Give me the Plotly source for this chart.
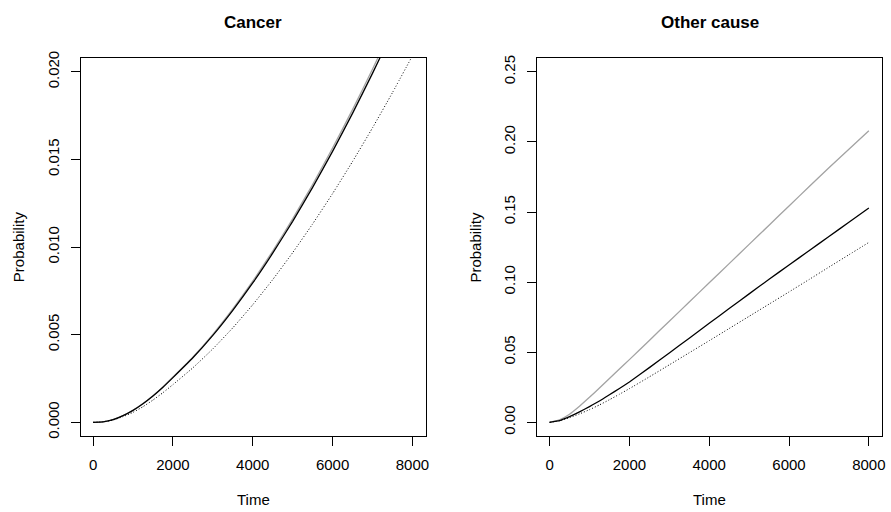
import plotly.graph_objects as go

# ---- data ----
time = [0, 250, 500, 750, 1000, 1250, 1500, 1750, 2000, 2500, 3000, 3500, 4000,
        4500, 5000, 5500, 6000, 6500, 7000, 7500, 8000]

cancer_gray = [0, 0.00003, 0.00015, 0.00038, 0.00069, 0.00107, 0.00152, 0.00202, 0.00258,
               0.00372, 0.00502, 0.00647, 0.00805, 0.00977, 0.01161, 0.01357, 0.01565,
               0.01784, 0.02015, 0.02256, 0.02508]
cancer_black = [0, 0.00003, 0.00015, 0.00038, 0.00068, 0.00106, 0.00150, 0.00200, 0.00255,
                0.00368, 0.00496, 0.00639, 0.00795, 0.00965, 0.01147, 0.01341, 0.01546,
                0.01763, 0.01991, 0.02229, 0.02478]
cancer_dotted = [0, 0.00003, 0.00013, 0.00032, 0.00057, 0.00089, 0.00127, 0.00169, 0.00215,
                 0.00311, 0.00419, 0.00539, 0.00671, 0.00814, 0.00968, 0.01132, 0.01305,
                 0.01488, 0.01680, 0.01881, 0.02091]

other_gray = [0, 0.0018, 0.0058, 0.0115, 0.0178, 0.0245, 0.0312, 0.0380, 0.0447,
              0.0584, 0.0721, 0.0858, 0.0995, 0.1132, 0.1269, 0.1406, 0.1543,
              0.1680, 0.1815, 0.1948, 0.2079]
other_black = [0, 0.0012, 0.0040, 0.0074, 0.0112, 0.0152, 0.0196, 0.0241, 0.0288,
               0.0390, 0.0495, 0.0600, 0.0706, 0.0811, 0.0916, 0.1020, 0.1122,
               0.1224, 0.1325, 0.1427, 0.1529]
other_dotted = [0, 0.0010, 0.0033, 0.0060, 0.0090, 0.0124, 0.0161, 0.0200, 0.0240,
                0.0324, 0.0410, 0.0496, 0.0582, 0.0669, 0.0756, 0.0843, 0.0930,
                0.1018, 0.1107, 0.1195, 0.1283]

x_ticks = [0, 2000, 4000, 6000, 8000]
cancer_yticks = [0.000, 0.005, 0.010, 0.015, 0.020]
cancer_ylabels = ["0.000", "0.005", "0.010", "0.015", "0.020"]
other_yticks = [0.00, 0.05, 0.10, 0.15, 0.20, 0.25]
other_ylabels = ["0.00", "0.05", "0.10", "0.15", "0.20", "0.25"]

titles = ["Cancer", "Other cause"]
x_title = "Time"
y_title = "Probability"

# ---- figure ----
W, H = 891, 512
FONT = "Liberation Sans, Arial, sans-serif"
GRAY = "#a3a3a3"

fig = go.Figure()

def add_panel(xa, ya, g, b, d):
    fig.add_trace(go.Scatter(x=time, y=g, mode="lines", xaxis=xa, yaxis=ya,
                             line=dict(color=GRAY, width=1.3, shape="spline", smoothing=0.4)))
    fig.add_trace(go.Scatter(x=time, y=b, mode="lines", xaxis=xa, yaxis=ya,
                             line=dict(color="black", width=1.3, shape="spline", smoothing=0.4)))
    fig.add_trace(go.Scatter(x=time, y=d, mode="lines", xaxis=xa, yaxis=ya,
                             line=dict(color="black", width=1, dash="1px,2px",
                                       shape="spline", smoothing=0.4)))

add_panel("x", "y", cancer_gray, cancer_black, cancer_dotted)
add_panel("x2", "y2", other_gray, other_black, other_dotted)

ydom = [1 - 437 / H, 1 - 51.7 / H]
xdom1 = [81 / W, 427 / W]
xdom2 = [539 / W, 885 / W]

common_x = dict(range=[-310, 8330], tickvals=x_ticks, ticks="outside", ticklen=9,
                tickcolor="black", showline=True, linecolor="black", linewidth=1,
                mirror=True, showgrid=False, zeroline=False,
                tickfont=dict(family=FONT, size=15, color="black"),
                ticklabelstandoff=6)
common_y = dict(ticks="outside", ticklen=9, tickcolor="black", showline=True,
                linecolor="black", linewidth=1, mirror=True, showgrid=False,
                zeroline=False, tickangle=-90,
                tickfont=dict(family=FONT, size=15, color="black"),
                ticklabelstandoff=6)

fig.update_layout(
    width=W, height=H,
    margin=dict(l=0, r=0, t=0, b=0),
    paper_bgcolor="white", plot_bgcolor="white",
    showlegend=False,
    xaxis=dict(domain=xdom1, anchor="y", **common_x),
    xaxis2=dict(domain=xdom2, anchor="y2", **common_x),
    yaxis=dict(domain=ydom, anchor="x", range=[-0.0008, 0.0208],
               tickvals=cancer_yticks, ticktext=cancer_ylabels, **common_y),
    yaxis2=dict(domain=ydom, anchor="x2", range=[-0.01, 0.26],
                tickvals=other_yticks, ticktext=other_ylabels, **common_y),
)

ann = []
centers = [(81 + 427) / 2, (539 + 885) / 2]
for cx, t in zip(centers, titles):
    ann.append(dict(text="<b>%s</b>" % t, x=cx / W, y=1 - 16 / H, xref="paper", yref="paper",
                    xanchor="center", yanchor="middle", showarrow=False,
                    font=dict(family=FONT, size=17, color="black")))
    ann.append(dict(text=x_title, x=cx / W, y=1 - 501 / H, xref="paper", yref="paper",
                    xanchor="center", yanchor="middle", showarrow=False,
                    font=dict(family=FONT, size=15, color="black")))
for px in [18.5, 477.5]:
    ann.append(dict(text=y_title, x=px / W, y=1 - 244 / H, xref="paper", yref="paper",
                    xanchor="center", yanchor="middle", showarrow=False, textangle=-90,
                    font=dict(family=FONT, size=15, color="black")))
fig.update_layout(annotations=ann)

fig.write_html("out.html", config={"displayModeBar": False},
               post_script="document.body.style.margin='0';document.body.style.overflow='hidden';")
